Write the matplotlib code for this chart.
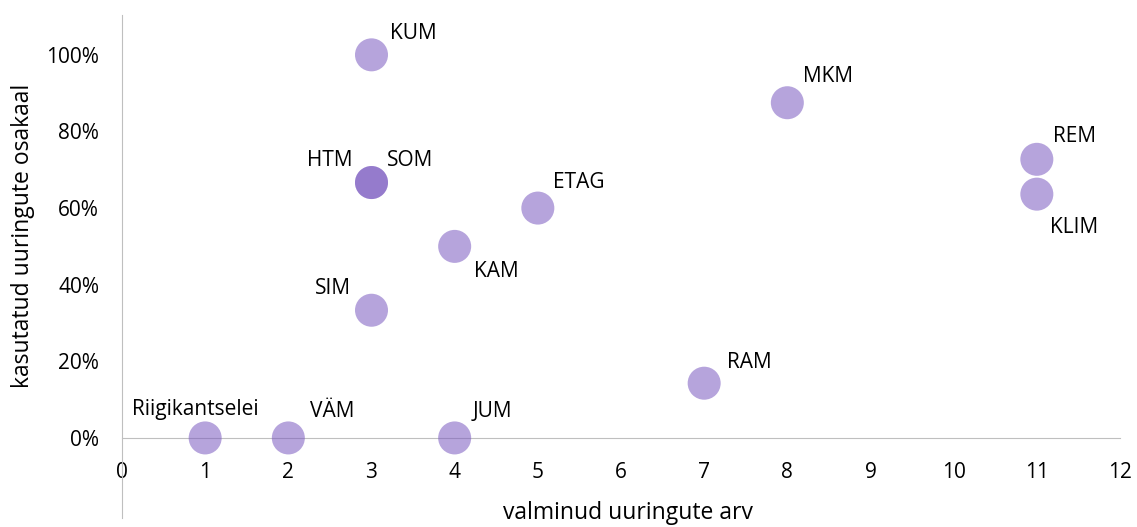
import matplotlib
matplotlib.use("Agg")
import matplotlib.pyplot as plt
from matplotlib.ticker import PercentFormatter

names = ["Riigikantselei", "VÄM", "JUM", "RAM", "SIM", "KAM", "ETAG",
         "HTM", "SOM", "KUM", "MKM", "REM", "KLIM"]
studies = [1, 2, 4, 7, 3, 4, 5, 3, 3, 3, 8, 11, 11]
used_share = [0.0, 0.0, 0.0, 1/7, 1/3, 0.5, 0.6, 2/3, 2/3, 1.0, 7/8, 8/11, 7/11]
x_ticks = list(range(0, 13))
y_ticks = [0, 0.2, 0.4, 0.6, 0.8, 1.0]

# label offsets in pixels: (dx to anchor edge, dy of cap centre, align) -- style only
offsets = {
    "Riigikantselei": (-10, 30, "center"), "VÄM": (22, 28, "left"),
    "JUM": (18, 28, "left"), "RAM": (23, 23, "left"), "SIM": (-21, 24, "right"),
    "KAM": (19, -23, "left"), "ETAG": (15, 28, "left"), "HTM": (-19, 24, "right"),
    "SOM": (15, 24, "left"), "KUM": (19, 23, "left"), "MKM": (16, 28, "left"),
    "REM": (16, 25, "left"), "KLIM": (13, -31, "left"),
}
FS = 15
cap_half_px = 0.714 * FS / 0.72 / 2

plt.rcParams['font.family'] = ['Open Sans', 'DejaVu Sans']
fig = plt.figure(figsize=(11.37, 5.27), dpi=100)
ax = fig.add_axes([122/1137, 9/527, (1120-122)/1137, (518-15)/527])

ax.scatter(studies, used_share, s=565, color="#7a5ac0", alpha=0.55,
           edgecolors="none", zorder=3)

for n, xv, yv in zip(names, studies, used_share):
    dx, dy, ha = offsets[n]
    ax.annotate(n, (xv, yv), xytext=(dx * 0.72, (dy - cap_half_px) * 0.72),
                textcoords="offset points", ha=ha, va="baseline",
                fontsize=FS, color="#000000")

ax.set_xlim(0, 12)
ax.set_ylim(-0.209, 1.104)
ax.set_xticks(x_ticks)
ax.set_yticks(y_ticks)
ax.yaxis.set_major_formatter(PercentFormatter(1.0, decimals=0))

for s in ["top", "right"]:
    ax.spines[s].set_visible(False)
ax.spines["bottom"].set_position(("data", 0))
ax.spines["bottom"].set_color("#bfbfbf")
ax.spines["left"].set_color("#bfbfbf")
ax.spines["bottom"].set_zorder(1)
ax.tick_params(axis="both", length=0, labelsize=FS, colors="#000000")
ax.tick_params(axis="x", pad=17)
ax.tick_params(axis="y", pad=16.5)

fig.text(628/1137, 1 - 513/527, "valminud uuringute arv", ha="center",
         va="center", fontsize=16.5)
fig.text(23/1137, 1 - 236/527, "kasutatud uuringute osakaal", ha="center",
         va="center", rotation=90, fontsize=16.5)

fig.savefig("out.png", dpi=100)
